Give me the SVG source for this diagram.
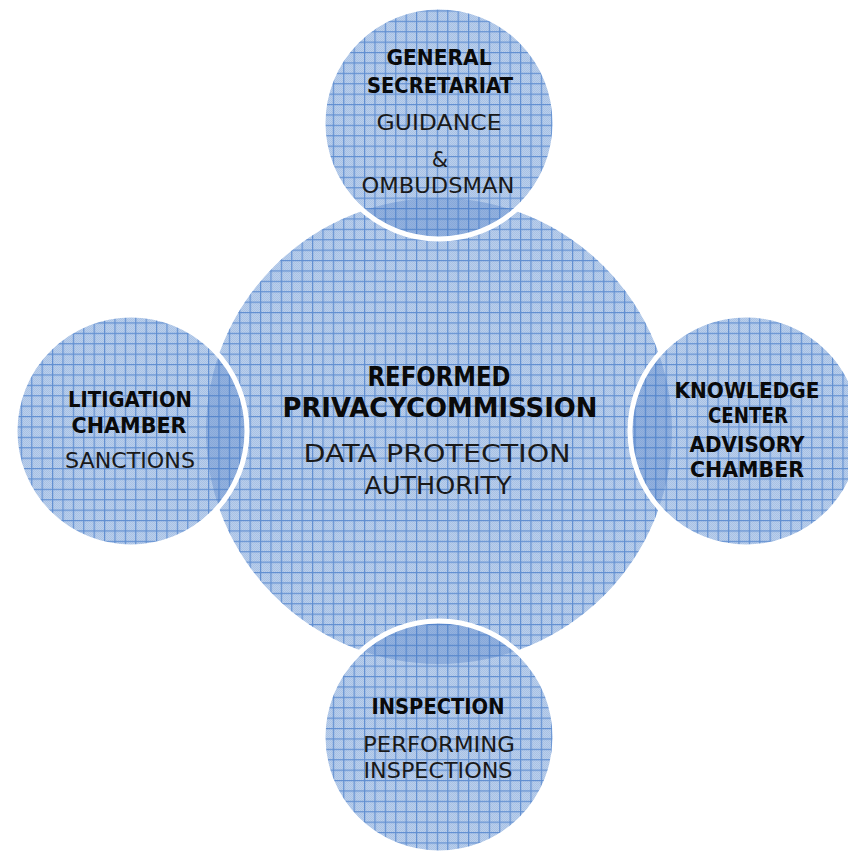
<svg xmlns="http://www.w3.org/2000/svg" width="848" height="854" viewBox="0 0 848 854">
<defs>
<pattern id="chk" width="2" height="2" patternUnits="userSpaceOnUse">
<rect width="2" height="2" fill="#bacfeb"/>
<rect width="1" height="1" fill="#a8c1e5"/>
<rect x="1" y="1" width="1" height="1" fill="#a8c1e5"/>
</pattern>
<pattern id="grid" width="10.4" height="10.4" patternUnits="userSpaceOnUse">
<path d="M0 0.6H10.4M0.6 0V10.4" stroke="#618fd1" stroke-width="1.2" fill="none"/>
</pattern>
<clipPath id="centralClip"><circle cx="439" cy="431" r="233"/></clipPath>
</defs>
<style>
.base{fill:url(#chk)}
.grid{fill:url(#grid)}
.lens{fill:#3a70c0;fill-opacity:0.3}
.rim{fill:none;stroke:#ffffff;stroke-width:5}
text{font-family:"DejaVu Sans","Liberation Sans",sans-serif;fill:#0a0a0a;text-anchor:middle}
.b{font-weight:bold}
.r{font-weight:normal;fill:#1a1a1a}
</style>
<rect width="848" height="854" fill="#ffffff"/>
<g id="connectors"/>
<g id="central">
<circle class="base" cx="439" cy="431" r="233"/>
<circle class="grid" cx="439" cy="431" r="233"/>
<text class="b" x="439" y="386" font-size="26" textLength="143" lengthAdjust="spacingAndGlyphs">REFORMED</text>
<text class="b" x="440" y="417" font-size="26" textLength="315" lengthAdjust="spacingAndGlyphs">PRIVACYCOMMISSION</text>
<text class="r" x="437" y="462" font-size="25" textLength="267" lengthAdjust="spacingAndGlyphs">DATA PROTECTION</text>
<text class="r" x="438" y="494" font-size="25" textLength="147" lengthAdjust="spacingAndGlyphs">AUTHORITY</text>
</g>
<g id="general-secretariat">
<circle class="base" cx="439" cy="123" r="116"/>
<circle class="grid" cx="439" cy="123" r="116"/>
<circle class="lens" cx="439" cy="123" r="116" clip-path="url(#centralClip)"/>
<circle class="rim" cx="439" cy="123" r="116"/>
<text class="b" x="439" y="65" font-size="21" textLength="105" lengthAdjust="spacingAndGlyphs">GENERAL</text>
<text class="b" x="440" y="93" font-size="21" textLength="146" lengthAdjust="spacingAndGlyphs">SECRETARIAT</text>
<text class="r" x="439" y="130" font-size="21" textLength="125" lengthAdjust="spacingAndGlyphs">GUIDANCE</text>
<text class="r" x="440" y="167" font-size="21">&amp;</text>
<text class="r" x="438" y="193" font-size="21" textLength="153" lengthAdjust="spacingAndGlyphs">OMBUDSMAN</text>
</g>
<g id="litigation-chamber">
<circle class="base" cx="131" cy="431" r="116"/>
<circle class="grid" cx="131" cy="431" r="116"/>
<circle class="lens" cx="131" cy="431" r="116" clip-path="url(#centralClip)"/>
<circle class="rim" cx="131" cy="431" r="116"/>
<text class="b" x="130" y="407" font-size="21" textLength="124" lengthAdjust="spacingAndGlyphs">LITIGATION</text>
<text class="b" x="129" y="433" font-size="21" textLength="115" lengthAdjust="spacingAndGlyphs">CHAMBER</text>
<text class="r" x="130" y="468" font-size="21" textLength="130" lengthAdjust="spacingAndGlyphs">SANCTIONS</text>
</g>
<g id="knowledge-center">
<circle class="base" cx="746" cy="431" r="116"/>
<circle class="grid" cx="746" cy="431" r="116"/>
<circle class="lens" cx="746" cy="431" r="116" clip-path="url(#centralClip)"/>
<circle class="rim" cx="746" cy="431" r="116"/>
<text class="b" x="747" y="398" font-size="21" textLength="145" lengthAdjust="spacingAndGlyphs">KNOWLEDGE</text>
<text class="b" x="748" y="423" font-size="21" textLength="80" lengthAdjust="spacingAndGlyphs">CENTER</text>
<text class="b" x="747" y="452" font-size="21" textLength="115" lengthAdjust="spacingAndGlyphs">ADVISORY</text>
<text class="b" x="747" y="477" font-size="21" textLength="114" lengthAdjust="spacingAndGlyphs">CHAMBER</text>
</g>
<g id="inspection">
<circle class="base" cx="439" cy="737" r="116"/>
<circle class="grid" cx="439" cy="737" r="116"/>
<circle class="lens" cx="439" cy="737" r="116" clip-path="url(#centralClip)"/>
<circle class="rim" cx="439" cy="737" r="116"/>
<text class="b" x="438" y="714" font-size="21" textLength="133" lengthAdjust="spacingAndGlyphs">INSPECTION</text>
<text class="r" x="439" y="752" font-size="21" textLength="152" lengthAdjust="spacingAndGlyphs">PERFORMING</text>
<text class="r" x="438" y="778" font-size="21" textLength="149" lengthAdjust="spacingAndGlyphs">INSPECTIONS</text>
</g>
</svg>
